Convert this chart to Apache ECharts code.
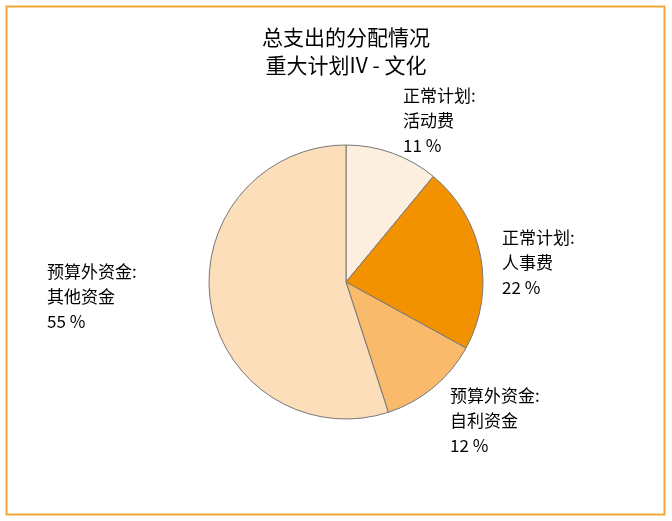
<!DOCTYPE html>
<html><head><meta charset="utf-8">
<script src="https://cdn.jsdelivr.net/npm/echarts@6/dist/echarts.min.js"></script>
<style>html,body{margin:0;padding:0;background:#fff}#c{width:672px;height:521px}</style>
</head><body><div id="c"></div>
<script>
const categories = ['正常计划:\n活动费', '正常计划:\n人事费', '预算外资金:\n自利资金', '预算外资金:\n其他资金'];
const values = [11, 22, 12, 55];
const colors = ['#FDEFDF', '#F39200', '#F9BA6C', '#FDDEBA'];
const labelPos = [[403, 83], [502, 225], [450, 383], [47, 259]];

const chart = echarts.init(document.getElementById('c'));
chart.setOption({
  backgroundColor: '#fff',
  animation: false,
  title: {
    text: '总支出的分配情况\n重大计划IV - 文化',
    left: 341, top: 18, textAlign: 'center',
    textStyle: { fontFamily: 'Noto Sans CJK SC', fontSize: 21, fontWeight: 'normal', color: '#000', lineHeight: 28 }
  },
  graphic: [{
    type: 'rect', shape: { x: 6.5, y: 6.5, width: 658, height: 508 },
    style: { fill: 'none', stroke: '#F5A73A', lineWidth: 2 }, silent: true
  }],
  series: [{
    type: 'pie',
    center: [346, 282],
    radius: 137,
    startAngle: 90,
    clockwise: true,
    data: categories.map((n, i) => ({ name: n, value: values[i], itemStyle: { color: colors[i] } })),
    itemStyle: { borderColor: '#777', borderWidth: 1 },
    label: {
      show: true,
      formatter: p => p.name + '\n' + p.value + ' %',
      fontFamily: 'Noto Sans CJK SC',
      fontSize: 17, lineHeight: 25, color: '#000', align: 'left'
    },
    labelLine: { show: false },
    labelLayout: p => ({ x: labelPos[p.dataIndex][0], y: labelPos[p.dataIndex][1], align: 'left', verticalAlign: 'top' }),
    emphasis: { disabled: true }
  }]
});
</script></body></html>
